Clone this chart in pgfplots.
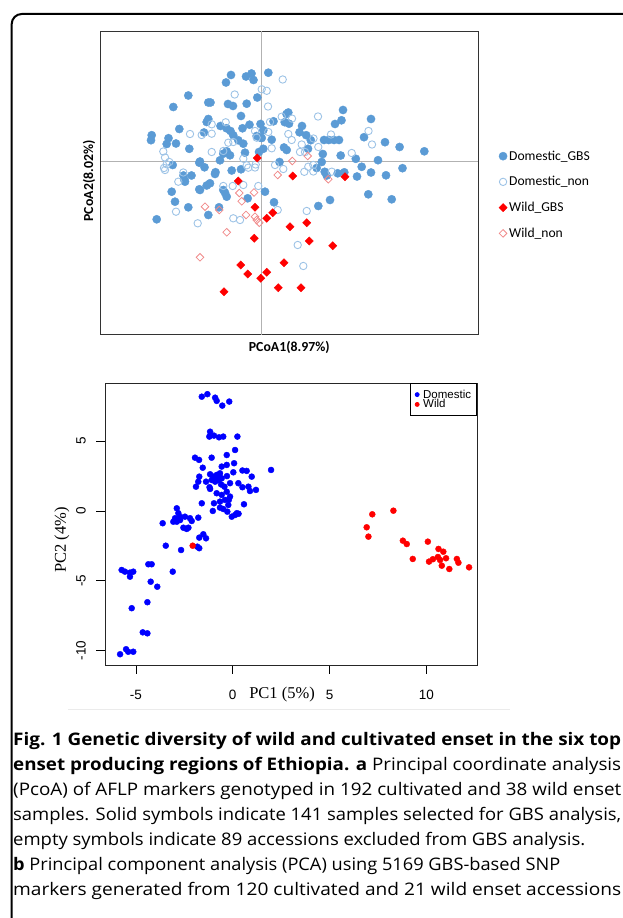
\documentclass[border=0pt]{standalone}
\usepackage{pgfplots}
\pgfplotsset{compat=1.18}
\usepackage{fontspec}
\usepackage{graphicx}
\setmainfont{Open Sans}
\newfontfamily\carlito{Carlito}
\newfontfamily\arialf{Liberation Sans}
\newfontfamily\timesf{Liberation Serif}
\definecolor{dgbs}{HTML}{5B9BD5}
\definecolor{dnon}{HTML}{9DC3E6}
\definecolor{wnon}{HTML}{F08A8A}
\definecolor{rblue}{HTML}{0000FF}
\definecolor{rred}{HTML}{FF0000}
\newcommand{\capline}[3]{\node[anchor=base west, inner sep=0pt] at (13pt,#1pt) {\resizebox{#2pt}{\height}{\fontsize{17.3}{20}\selectfont #3}};}
\begin{document}
\begin{tikzpicture}[x=1pt,y=1pt]
\useasboundingbox (0,0) rectangle (622,918);
\draw[line width=2pt, rounded corners=10pt] (11.7,-30) -- (11.7,904) -- (660,904);
\draw[black!8, line width=0.6pt] (68,209) -- (510,209);
% ---------- top panel (PCoA) ----------
\begin{axis}[at={(100.5pt,886.7pt)}, anchor=north west,
  width=377.5pt, height=303.7pt, scale only axis,
  xmin=100.5, xmax=478, ymin=31.3, ymax=335, y dir=reverse,
  xtick=\empty, ytick=\empty, clip=false,
  axis line style={black!80, line width=1pt},
  xlabel={PCoA1(8.97\%)}, ylabel={PCoA2(8.02\%)},
  label style={font=\carlito\bfseries\fontsize{13.8}{13.8}\selectfont},
  xlabel style={at={([yshift=-12pt]axis description cs:0.5,0)}, anchor=center},
  ylabel style={at={([xshift=-11.5pt]axis description cs:0,0.507)}, anchor=center},
  legend cell align=left,
  legend image code/.code={\draw[mark repeat=2,mark phase=2,#1] plot coordinates {(0pt,0pt)(4pt,0pt)(8pt,0pt)};},
  legend style={draw=none, fill=none, at={(axis description cs:1.055,0.614)}, anchor=north west,
    font=\carlito\fontsize{13.6}{13.6}\selectfont, row sep=10.8pt, inner sep=0pt},
]
\draw[black!30, line width=1pt] (axis cs:261.7,31.3) -- (axis cs:261.7,335);
\draw[black!30, line width=1pt] (axis cs:100.5,161.7) -- (axis cs:478,161.7);
\addplot[only marks, mark=*, mark size=4.1pt, mark options={fill=dgbs, draw=dgbs}] coordinates {
(231,75)(226,82.5)(246,76.5)(251.5,73.5)(253.5,80)(268.3,72.7)(188.3,95.5)(173.3,107)(208.3,102.5)(210.5,102.5)(228,104)(233,106)(246.7,103.7)(257.3,97.5)(241,116)(208.3,119)(206.7,122)(220.5,126)(226.5,128.3)(230.5,131)(242.5,128.3)(249.5,124.7)(260.5,124)(263.3,130.2)(261.7,138)(273.5,121.3)(286.5,114)(284.7,122.2)(289,123.7)(204,132.5)(179.3,129)(151.7,135.2)(151,140.2)(168.5,138.2)(166.7,144)(176,143.5)(189.3,148.8)(233.3,135.3)(238.3,140.3)(243.3,143.7)(245,152.7)(256.7,136)(260,137.5)(271.7,139.7)(263.3,148.8)(259,152)(226.7,151.3)(223.3,153.7)(220,160.3)(230,155.3)(172.7,165)(200,161.5)(204.5,167.3)(215.5,172.2)(231.7,170.5)(241,169.3)(279.5,162)(284,147.5)(286.7,150)(183.5,175.5)(191.5,175.5)(184.3,179.5)(302,126)(299.5,132.3)(306.2,135.2)(310.8,140.2)(308,148.8)(324,140)(328.8,140)(334,140)(339,140)(335,124)(341.5,120.3)(343,110)(371,119)(364,137.2)(385,142.2)(399.6,147)(424.3,151.3)(322.8,154)(321.7,162)(316.7,168)(324.7,171.8)(326.7,175.5)(340.7,155.5)(355.8,158.8)(378,160.2)(361.7,166.8)(371,172.5)(386,175.3)(402.5,168.2)(344.3,172.3)(357,176.5)(288.3,112.5)(210,183.3)(206.7,185.5)(199.3,189.3)(171.7,191.7)(175,201.7)(188.3,207.3)(156.7,219.3)(208.3,215)(219,207.3)(223.3,190)(226.7,196.7)(225,192.7)(247.7,198.3)(265,191.7)(274,202.3)(318.3,206)(330,200)(337.7,173.3)(368.3,194.3)(391.7,199.3)(215,174)(199.3,162.7)(185,181.7)(200,190)
};
\addlegendentry{Domestic\_GBS}
\addplot[only marks, mark=o, mark size=3.7pt, mark options={draw=dnon, line width=0.9pt}] coordinates {
(282.7,79.5)(261.7,89.3)(266.7,90.8)(234.7,94.5)(268,106.5)(318,116.5)(190,134)(201.7,135)(211.7,133.7)(225.7,122.3)(211.7,124.3)(211.7,152)(228.3,142.7)(233.3,142)(243.3,158.7)(246.7,165.3)(255,167.5)(255.7,164.5)(163.3,151.5)(165,157.5)(164,168)(169.3,162)(183.3,172.5)(178.3,181.7)(270,122)(268.3,132)(255,131)(256.7,137.7)(271.7,148.3)(281.7,116.7)(292,118.6)(288.3,134)(291.7,140)(313.5,138.5)(318.3,147)(331,134.5)(368.5,131)(372,144.5)(351.7,153)(301.7,144.5)(300,152)(305,152)(308.3,166.7)(304.3,171.8)(313.3,171.5)(331.7,171.7)(223.3,151)(283.3,169)(275,165)(248.3,167.7)(176,211.7)(197.7,223.3)(233.3,218.3)(240,220)(223.3,186)(232.7,186)(243.3,185)(258.3,186)(277.7,210)(306.7,211)(297.7,245)(303.3,266)(313.3,165)(166.7,164.3)(165,170)
};
\addlegendentry{Domestic\_non}
\addplot[only marks, mark=square*, mark size=2.9pt, mark options={rotate=45, fill=rred, draw=rred}] coordinates {
(257.3,158)(238.3,181)(292.7,176)(345,176.7)(255,207.3)(272.7,212.7)(266.7,218.3)(290,226.7)(306.7,222.7)(254.3,238.3)(309.3,241)(332.7,245.7)(284,262.7)(240.7,265)(247.7,274)(266.7,272.3)(260.7,278.3)(278.3,287.7)(301,287.7)(224,291.7)
};
\addlegendentry{Wild\_GBS}
\addplot[only marks, mark=square, mark size=2.7pt, mark options={rotate=45, draw=wnon, line width=0.8pt}] coordinates {
(292.3,161)(307.7,156)(277.7,175)(328.3,179.3)(239.3,193)(241.7,201.3)(254,192.5)(205,206.7)(219.3,210)(246,215)(255,216.7)(256.7,220)(259.3,222.7)(226.7,232.3)(200,257.3)
};
\addlegendentry{Wild\_non}
\end{axis}
% ---------- bottom panel (PCA) ----------
\begin{axis}[at={(105pt,253pt)}, anchor=south west,
  width=372pt, height=281.7pt, scale only axis,
  xmin=-6.6, xmax=12.62, ymin=-11.04, ymax=9.15,
  xtick={-5,0,5,10}, xticklabels={-5,0,5,10},
  ytick={-10,-5,0,5}, yticklabels={-10,-5,0,5},
  xtick pos=bottom, ytick pos=left,
  tick align=outside, major tick length=9pt,
  tick style={black, line width=0.8pt},
  axis line style={black!85, line width=0.9pt},
  tick label style={font=\arialf\fontsize{13.5}{13.5}\selectfont},
  xticklabel style={anchor=center, yshift=-20.5pt},
  yticklabel style={anchor=center, xshift=-15pt, rotate=90},
  xlabel={PC1 (5\%)}, ylabel={PC2 (4\%)},
  label style={font=\timesf\fontsize{16.5}{16.5}\selectfont},
  xlabel style={at={([yshift=-30pt]axis description cs:0.476,0)}, anchor=center},
  ylabel style={at={([xshift=-43pt]axis description cs:0,0.444)}, anchor=center},
  legend cell align=left,
  legend image code/.code={\draw[mark repeat=2,mark phase=2,#1, mark size=2pt] plot coordinates {(0pt,0pt)(4pt,0pt)(8pt,0pt)};},
  legend style={draw=black, line width=0.8pt, at={(axis description cs:1,1)}, anchor=north east,
    font=\arialf\fontsize{11.5}{11.5}\selectfont, inner xsep=4.5pt, inner ysep=5pt, row sep=-2pt, column sep=3pt,
    nodes={inner sep=1pt}},
]
\addplot[only marks, mark=*, mark size=3pt, color=rblue] coordinates {
(-1.60,8.19)(-1.31,8.37)(-0.91,8.12)(-0.83,7.89)(-0.54,7.55)(-0.18,7.84)(-1.17,5.68)(-1.21,5.33)(-0.97,5.40)(-0.71,5.28)(-0.49,5.33)(0.24,5.33)(0.12,4.37)(-1.95,3.82)(-1.74,3.66)(-1.09,3.82)(-0.31,4.01)(-1.55,3.10)(-0.57,3.18)(-0.31,3.30)(0.07,3.42)(-1.73,2.46)(-1.78,2.10)(-1.90,1.74)(-1.38,2.10)(-1.17,2.63)(-1.00,2.46)(-0.83,2.58)(-0.66,2.70)(-1.09,2.22)(-0.91,2.10)(-0.74,2.22)(-0.57,2.34)(-0.43,1.74)(-0.14,1.99)(0.29,1.99)(0.03,2.77)(0.72,2.87)(0.98,2.46)(1.98,2.94)(0.81,1.74)(0.89,1.43)(1.20,1.51)(-1.17,1.58)(-0.83,1.27)(-0.57,1.15)(-0.31,1.38)(-0.14,1.03)(-1.60,0.55)(-0.97,0.55)(-0.66,0.67)(-0.40,0.79)(-0.23,0.43)(-0.66,0.24)(-0.49,0.14)(-1.03,0.00)(0.58,0.48)(-0.28,-0.05)(0.12,-0.29)(-0.05,-0.41)(0.21,-0.16)(-2.89,0.19)(-2.81,-0.16)(-2.72,-0.41)(-2.98,-0.52)(-3.07,-0.77)(-2.89,-0.77)(-2.72,-0.65)(-2.47,-0.41)(-2.21,-0.52)(-1.78,-0.48)(-2.12,-0.72)(-2.55,-1.20)(-2.38,-1.29)(-2.29,-1.20)(-3.62,-0.88)(-1.73,-1.91)(-1.52,-1.67)(-1.38,-1.96)(-1.83,-2.56)(-1.73,-2.67)(-3.46,-2.49)(-2.67,-2.80)(-5.74,-4.23)(-5.57,-4.35)(-5.31,-4.42)(-5.14,-4.35)(-4.36,-3.82)(-4.19,-3.82)(-3.10,-4.35)(-5.31,-4.71)(-4.24,-5.07)(-3.90,-5.43)(-4.41,-6.54)(-5.22,-6.97)(-4.65,-8.70)(-4.41,-8.77)(-5.51,-9.91)(-5.14,-10.09)(-5.82,-10.27)(-5.40,-10.09)(-0.90,2.40)(-0.80,2.30)(-0.70,2.60)(-1.00,2.30)(-0.60,1.90)(-0.30,2.50)(0.50,1.70)(-0.20,0.80)(0.30,-0.20)(-1.20,1.70)(0.50,2.90)
};
\addlegendentry{Domestic}
\addplot[only marks, mark=*, mark size=3pt, color=rred] coordinates {
(7.21,-0.24)(8.30,0.02)(6.92,-1.17)(7.01,-1.84)(8.79,-2.13)(8.99,-2.37)(9.30,-3.44)(10.08,-2.20)(10.63,-2.72)(10.88,-2.92)(10.14,-3.63)(10.34,-3.46)(10.71,-3.51)(10.80,-3.92)(11.02,-3.39)(11.19,-4.16)(11.58,-3.44)(11.66,-3.71)(12.21,-4.04)(-2.07,-2.49)(10.60,-3.30)
};
\addlegendentry{Wild}
\end{axis}
% ---------- caption ----------
\capline{172}{608}{\bfseries Fig. 1 Genetic diversity of wild and cultivated enset in the six top}
\capline{147.1}{608}{\textbf{enset producing regions of Ethiopia. a} Principal coordinate analysis}
\capline{122.2}{608}{(PcoA) of AFLP markers genotyped in 192 cultivated and 38 wild enset}
\capline{97.3}{608}{samples. Solid symbols indicate 141 samples selected for GBS analysis,}
\capline{72.4}{572}{empty symbols indicate 89 accessions excluded from GBS analysis.}
\capline{47.5}{547}{\textbf{b} Principal component analysis (PCA) using 5169 GBS-based SNP}
\capline{22.6}{608}{markers generated from 120 cultivated and 21 wild enset accessions}
\end{tikzpicture}
\end{document}
